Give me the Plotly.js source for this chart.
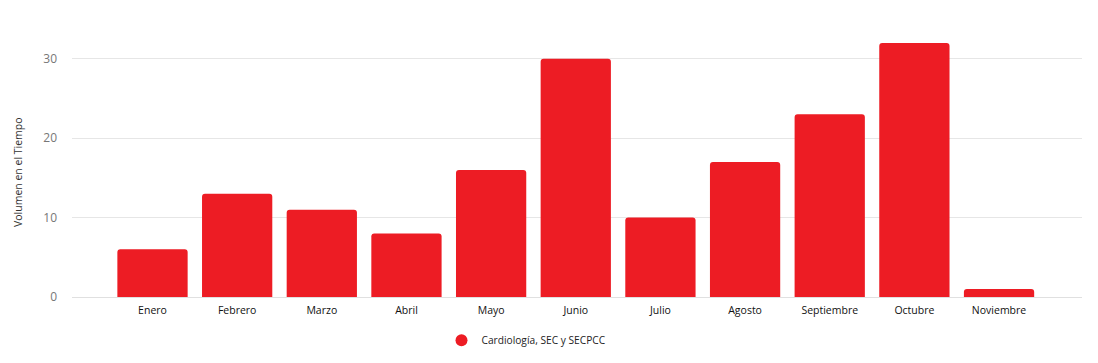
<!DOCTYPE html>
<html>
<head>
<meta charset="utf-8">
<script src="https://cdn.plot.ly/plotly-3.0.1.min.js"></script>
<style>html,body{margin:0;padding:0;background:#fff;}#chart{width:1098px;height:363px;}</style>
</head>
<body>
<div id="chart"></div>
<script>
const categories = ["Enero","Febrero","Marzo","Abril","Mayo","Junio","Julio","Agosto","Septiembre","Octubre","Noviembre"];
const values = [6, 13, 11, 8, 16, 30, 10, 17, 23, 32, 1];
const seriesName = "Cardiología, SEC y SECPCC";
const yTicks = [0, 10, 20, 30];
const yTitle = "Volumen en el Tiempo";

const font = "'Segoe UI', 'Open Sans', 'Noto Sans', sans-serif";
const red = "#ED1C24";
const bars = {
  type: "bar",
  x: categories,
  y: values,
  name: seriesName,
  marker: {color: red},
  width: 0.83,
  showlegend: false,
  hoverinfo: "x+y"
};
const legendItem = {
  type: "scatter", mode: "markers",
  x: [null], y: [null],
  name: seriesName,
  marker: {color: red, symbol: "circle", size: 12},
  showlegend: true
};
const layout = {
  width: 1098, height: 363,
  margin: {l: 72, r: 16, t: 27, b: 66, autoexpand: false},
  paper_bgcolor: "#fff", plot_bgcolor: "#fff",
  font: {family: font, size: 11, color: "#222"},
  barcornerradius: 3,
  showlegend: true,
  legend: {orientation: "h", x: 0.45, xanchor: "center", y: -0.16, yanchor: "middle",
           font: {family: font, size: 10.2, color: "#222"}},
  xaxis: {
    type: "category",
    range: [-0.951, 10.98],
    showgrid: false, zeroline: false, showline: false,
    ticks: "", tickfont: {family: font, size: 10.5, color: "#111"},
    ticklabelstandoff: 5
  },
  yaxis: {
    range: [0, 34],
    tickvals: yTicks,
    showgrid: true, gridcolor: "#e6e6e6", gridwidth: 1,
    zeroline: true, zerolinecolor: "#e0e0e0", zerolinewidth: 1,
    showline: false, ticks: "",
    tickfont: {family: font, size: 12, color: "#777"},
    ticklabelstandoff: 14
  },
  annotations: [{
    text: yTitle, textangle: -90,
    xref: "paper", yref: "paper",
    x: -54/1010, y: (297-172)/270,
    xanchor: "center", yanchor: "middle",
    showarrow: false,
    font: {family: font, size: 10.5, color: "#333"}
  }]
};
Plotly.newPlot("chart", [bars, legendItem], layout, {displayModeBar: false, staticPlot: true});
</script>
</body>
</html>
